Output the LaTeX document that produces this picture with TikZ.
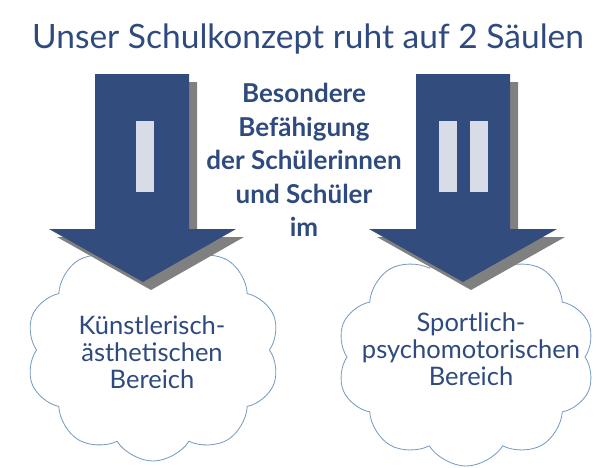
\documentclass[tikz,border=0pt]{standalone}
\usepackage{fontspec}
\setmainfont{Lato}
\usetikzlibrary{shapes.symbols}
\definecolor{navy}{HTML}{324D7D}
\definecolor{txtblue}{HTML}{2E4A7E}
\definecolor{shadowgray}{HTML}{808080}
\definecolor{barfill}{HTML}{D8DCE6}
\definecolor{cloudline}{HTML}{7398C2}
\tikzset{
  arrowbody/.style={fill=navy, draw=none},
  arrowshadow/.style={fill=shadowgray, draw=none},
  barbox/.style={fill=barfill, draw=none},
  cloudbox/.style={cloud, cloud puffs=10, cloud puff arc=115, draw=cloudline, line width=0.8pt, fill=white, inner sep=0pt},
  cloudtext/.style={text=txtblue, align=center, font=\fontsize{25.5}{27}\selectfont},
}
\begin{document}
\begin{tikzpicture}[x=1pt,y=-1pt]
\useasboundingbox (0,0) rectangle (607,467);
% title
\node[text=txtblue, font=\fontsize{33.5}{36}\selectfont, anchor=base] (title) at (308,48) {Unser Schulkonzept ruht auf 2 Säulen};
% clouds
\node[cloudbox, minimum width=254pt, minimum height=222pt] (cloudL) at (153,350) {};
\node[cloudbox, minimum width=258pt, minimum height=218pt] (cloudR) at (466,357) {};
% left arrow shadow and body
\fill[arrowshadow] (103,82) -- (197,82) -- (197,237) -- (244,237) -- (151,290) -- (57,237) -- (103,237) -- cycle;
\fill[arrowbody] (95,74) -- (189,74) -- (189,229) -- (236,229) -- (143,282) -- (49,229) -- (95,229) -- cycle;
\fill[barbox] (136,121) rectangle (154,192);
% right arrow shadow and body
\fill[arrowshadow] (424,82) -- (518,82) -- (518,237) -- (565,237) -- (471,290) -- (377,237) -- (424,237) -- cycle;
\fill[arrowbody] (416,74) -- (510,74) -- (510,229) -- (557,229) -- (463,282) -- (369,229) -- (416,229) -- cycle;
\fill[barbox] (439,121) rectangle (457,192);
\fill[barbox] (470,121) rectangle (488,192);
% center text
\node[text=txtblue, align=center, font=\fontsize{26}{33.5}\selectfont\bfseries] (center) at (304,160) {Besondere\\Befähigung\\der Schülerinnen\\und Schüler\\im};
% cloud texts
\node[cloudtext] (textL) at (152,352) {Künstlerisch-\\ästhetischen\\Bereich};
\node[cloudtext] (textR) at (471,349) {Sportlich-\\psychomotorischen\\Bereich};
\end{tikzpicture}
\end{document}
